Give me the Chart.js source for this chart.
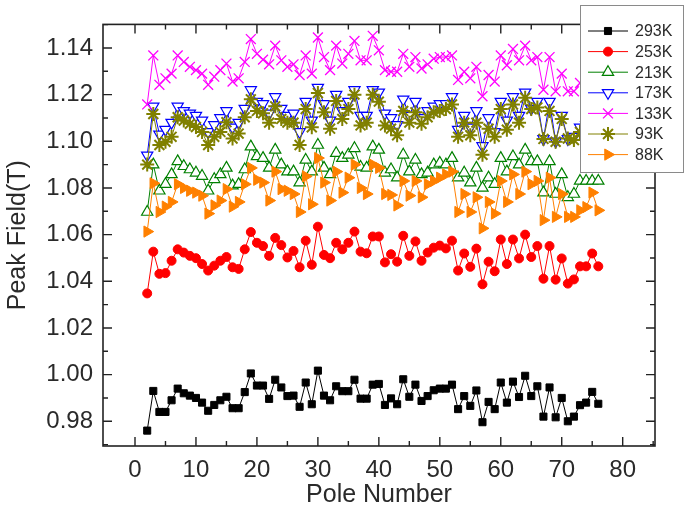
<!DOCTYPE html>
<html><head><meta charset="utf-8">
<script src="https://cdn.jsdelivr.net/npm/chart.js@4.4.0/dist/chart.umd.min.js"></script>
<style>html,body{margin:0;padding:0;background:#fff}#wrap{width:686px;height:508px;position:relative}</style>
</head><body><div id="wrap"><canvas id="c" width="686" height="508"></canvas></div>
<script>
const poles=[2,3,4,5,6,7,8,9,10,11,12,13,14,15,16,17,18,19,20,21,22,23,24,25,26,27,28,29,30,31,32,33,34,35,36,37,38,39,40,41,42,43,44,45,46,47,48,49,50,51,52,53,54,55,56,57,58,59,60,61,62,63,64,65,66,67,68,69,70,71,72,73,74,75,76];
const k293=[0.976,0.993,0.984,0.984,0.989,0.994,0.992,0.991,0.990,0.988,0.9845,0.987,0.989,0.9905,0.9856,0.9856,0.9925,1.0005,0.9953,0.9953,0.9896,0.9978,0.9945,0.9908,0.991,0.9862,0.9966,0.9873,1.0017,0.991,0.989,0.995,0.9929,0.9929,0.9978,0.9897,0.9897,0.9957,0.996,0.987,0.9898,0.9873,0.998,0.9905,0.9957,0.9887,0.9908,0.9933,0.994,0.994,0.9957,0.9852,0.9908,0.9866,0.9932,0.9796,0.9883,0.9852,0.9966,0.988,0.997,0.9904,0.9995,0.9908,0.995,0.982,0.9945,0.9817,0.990,0.980,0.982,0.9869,0.988,0.9926,0.9875];
const k253=[1.0348,1.0527,1.0432,1.0435,1.0488,1.0537,1.0523,1.0509,1.0499,1.0474,1.0446,1.0467,1.0488,1.0504,1.046,1.0453,1.0537,1.0611,1.0565,1.0551,1.0509,1.0586,1.0555,1.0502,1.053,1.046,1.0574,1.0471,1.0634,1.0513,1.0499,1.0565,1.0537,1.0565,1.0613,1.0527,1.052,1.0592,1.0592,1.0481,1.0516,1.0484,1.0595,1.0509,1.0571,1.0488,1.0523,1.0544,1.0553,1.0541,1.0574,1.0446,1.0519,1.0462,1.054,1.0387,1.0484,1.0443,1.0579,1.0474,1.0579,1.0498,1.06,1.0504,1.0551,1.0411,1.0551,1.0407,1.0498,1.039,1.0408,1.0464,1.0464,1.0519,1.0464];
const k213=[1.0697,1.090,1.0788,1.0816,1.0858,1.0914,1.0893,1.0879,1.0865,1.0851,1.0788,1.0837,1.0858,1.0886,1.081,1.0816,1.0879,1.0977,1.0935,1.0928,1.0886,1.0963,1.090,1.087,1.087,1.0823,1.092,1.087,1.0984,1.0886,1.0858,1.0949,1.0928,1.0942,1.097,1.089,1.0886,1.0977,1.0963,1.0865,1.0879,1.0844,1.0942,1.087,1.092,1.0858,1.0865,1.090,1.0907,1.090,1.0928,1.0844,1.0865,1.0823,1.0886,1.080,1.0844,1.0816,1.0928,1.087,1.0935,1.090,1.0963,1.0914,1.0914,1.078,1.0914,1.0774,1.0858,1.076,1.0774,1.083,1.083,1.083,1.083];
const k173=[1.094,1.115,1.103,1.105,1.108,1.115,1.113,1.112,1.111,1.109,1.104,1.107,1.110,1.113,1.106,1.108,1.114,1.122,1.117,1.116,1.112,1.119,1.114,1.111,1.112,1.104,1.117,1.109,1.123,1.116,1.109,1.120,1.113,1.117,1.122,1.111,1.111,1.122,1.121,1.112,1.110,1.107,1.118,1.111,1.117,1.110,1.113,1.115,1.116,1.116,1.119,1.105,1.111,1.106,1.113,1.098,1.110,1.104,1.117,1.109,1.119,1.111,1.121,1.114,1.117,1.101,1.117,1.100,1.111,1.101,1.102,1.106,1.107,1.112,1.107];
const k133=[1.1158,1.1368,1.1242,1.127,1.129,1.1368,1.134,1.1319,1.1305,1.129,1.1242,1.1277,1.1305,1.1333,1.1256,1.127,1.134,1.1438,1.1375,1.135,1.133,1.141,1.1347,1.1319,1.133,1.1284,1.1368,1.129,1.1445,1.1361,1.1305,1.141,1.1333,1.1375,1.143,1.1347,1.1347,1.1452,1.139,1.1305,1.1298,1.1298,1.1375,1.1319,1.1361,1.1312,1.133,1.1354,1.1361,1.1361,1.1368,1.1263,1.1298,1.127,1.1319,1.1193,1.1284,1.1256,1.1368,1.1326,1.1396,1.1347,1.141,1.1347,1.1361,1.1221,1.1361,1.1214,1.129,1.1214,1.1214,1.125,1.126,1.131,1.126];
const k93=[1.090,1.1117,1.0984,1.0998,1.1019,1.1103,1.1089,1.1075,1.1061,1.104,1.0984,1.1019,1.104,1.1082,1.1012,1.1033,1.1103,1.118,1.113,1.112,1.108,1.115,1.1096,1.108,1.108,1.0984,1.1138,1.106,1.1207,1.1124,1.1054,1.1173,1.1096,1.1138,1.12,1.1068,1.108,1.12,1.117,1.1068,1.1054,1.1026,1.113,1.108,1.1124,1.1075,1.1103,1.1124,1.113,1.1138,1.1158,1.1019,1.108,1.1026,1.108,1.0942,1.1054,1.1019,1.1138,1.105,1.1158,1.108,1.1187,1.1138,1.1145,1.101,1.113,1.0998,1.1096,1.1012,1.1005,1.104,1.105,1.109,1.104];
const k88=[1.0613,1.082,1.0697,1.072,1.074,1.0816,1.080,1.0788,1.078,1.0767,1.069,1.0725,1.0746,1.0795,1.072,1.074,1.0816,1.0886,1.0835,1.0823,1.0746,1.087,1.0795,1.0788,1.0774,1.0697,1.085,1.073,1.0928,1.0823,1.0746,1.087,1.078,1.0844,1.090,1.080,1.0774,1.090,1.0886,1.0774,1.077,1.0725,1.083,1.0767,1.083,1.076,1.0816,1.083,1.0844,1.0858,1.087,1.0697,1.0774,1.0697,1.076,1.0627,1.074,1.069,1.083,1.074,1.0858,1.0774,1.087,1.0816,1.083,1.0662,1.0844,1.0676,1.0774,1.0676,1.0676,1.0704,1.0718,1.078,1.0704];
const seriesLabels=['293K','253K','213K','173K','133K','93K','88K'];
const xTicks=[0,10,20,30,40,50,60,70,80];
const yTicks=[0.98,1.00,1.02,1.04,1.06,1.08,1.10,1.12,1.14];

const FONT="'Liberation Sans', Arial, Helvetica, sans-serif";
const TXT='#2a2a2a';
const styles=[
 {c:'#000000',bg:'#000000',ps:'rect',r:5,bw:1,rot:0},
 {c:'#ff0000',bg:'#ff0000',ps:'circle',r:4.5,bw:1,rot:0},
 {c:'#008000',bg:'#ffffff',ps:'triangle',r:6.5,bw:1.2,rot:0},
 {c:'#0000ff',bg:'#ffffff',ps:'triangle',r:6.5,bw:1.2,rot:180},
 {c:'#ff00ff',bg:'#ff00ff',ps:'crossRot',r:7,bw:1.3,rot:0},
 {c:'#808000',bg:'#808000',ps:'star',r:7,bw:2,rot:0},
 {c:'#ff8000',bg:'#ff8000',ps:'triangle',r:6.5,bw:1,rot:90}
];
const values=[k293,k253,k213,k173,k133,k93,k88];
const datasets=values.map((arr,i)=>({
  label:seriesLabels[i],
  data:poles.map((p,j)=>({x:p,y:arr[j]})),
  borderColor:styles[i].c,
  backgroundColor:styles[i].bg,
  borderWidth:1,
  pointStyle:styles[i].ps,
  pointRadius:styles[i].r,
  pointRotation:styles[i].rot,
  pointBorderWidth:styles[i].bw,
  pointBorderColor:styles[i].c,
  pointBackgroundColor:styles[i].bg,
  tension:0,
  order:6-i
}));

const framePlugin={
  id:'frame',
  afterDatasetsDraw(chart){
    const {ctx,chartArea:a,scales:{x,y}}=chart;
    ctx.save();
    ctx.strokeStyle='#222';
    ctx.lineWidth=1.6;
    ctx.strokeRect(a.left,a.top,a.right-a.left,a.bottom-a.top);
    ctx.lineWidth=1.4;
    ctx.beginPath();
    const xs=[];
    for(let i=0;i<xTicks.length;i++){xs.push([xTicks[i],9]);}
    for(let i=0;i<xTicks.length;i++){xs.push([xTicks[i]+(xTicks[1]-xTicks[0])/2,5]);}
    xs.forEach(([v,l])=>{const px=x.getPixelForValue(v);if(px<a.left||px>a.right)return;
      ctx.moveTo(px,a.bottom);ctx.lineTo(px,a.bottom-l);ctx.moveTo(px,a.top);ctx.lineTo(px,a.top+l);});
    const ys=[];
    for(let i=0;i<yTicks.length;i++){ys.push([yTicks[i],9]);}
    for(let i=-1;i<yTicks.length;i++){ys.push([yTicks[0]+(i+0.5)*(yTicks[1]-yTicks[0]),5]);}
    ys.forEach(([v,l])=>{const py=y.getPixelForValue(v);if(py<a.top||py>a.bottom)return;
      ctx.moveTo(a.left,py);ctx.lineTo(a.left+l,py);ctx.moveTo(a.right,py);ctx.lineTo(a.right-l,py);});
    ctx.stroke();
    ctx.restore();
  }
};

const legendPlugin={
  id:'boxLegend',
  afterDraw(chart){
    const ctx=chart.ctx;
    ctx.save();
    ctx.fillStyle='#fff';
    ctx.fillRect(580,5,104,167);
    ctx.strokeStyle='#8a8a8a';ctx.lineWidth=1;
    ctx.strokeRect(580.5,5.5,103,167);
    chart.data.datasets.forEach((ds,i)=>{
      const yy=31+i*20.6;
      ctx.strokeStyle=ds.borderColor;ctx.lineWidth=1;
      ctx.beginPath();ctx.moveTo(588,yy);ctx.lineTo(628,yy);ctx.stroke();
      ctx.fillStyle=ds.pointBackgroundColor;ctx.strokeStyle=ds.pointBorderColor;ctx.lineWidth=ds.pointBorderWidth;
      if(Chart.helpers&&Chart.helpers.drawPoint){
        Chart.helpers.drawPoint(ctx,{pointStyle:ds.pointStyle,rotation:ds.pointRotation,radius:ds.pointRadius,borderWidth:ds.pointBorderWidth},608,yy);
      }
      ctx.fillStyle=TXT;ctx.font='16px '+FONT;ctx.textBaseline='middle';ctx.textAlign='left';
      ctx.fillText(ds.label,635,yy+1);
    });
    ctx.restore();
  }
};

new Chart(document.getElementById('c'),{
  type:'line',
  data:{datasets},
  options:{
    responsive:false,animation:false,
    layout:{padding:{top:15,right:31,left:0,bottom:0}},
    plugins:{legend:{display:false},tooltip:{enabled:false}},
    elements:{line:{borderWidth:1}},
    scales:{
      x:{type:'linear',min:-5.25,max:85.3,
        grid:{display:false,drawTicks:false},border:{display:false},
        afterBuildTicks(s){s.ticks=xTicks.map(v=>({value:v}));},
        afterFit(s){s.height=62;},
        ticks:{padding:10,color:TXT,font:{family:FONT,size:24},maxRotation:0,callback:v=>String(v)},
        title:{display:true,text:'Pole Number',color:TXT,font:{family:FONT,size:25,lineHeight:1},padding:{top:0,bottom:0}}
      },
      y:{type:'linear',min:0.9694,max:1.1501,
        grid:{display:false,drawTicks:false},border:{display:false},
        afterBuildTicks(s){s.ticks=yTicks.map(v=>({value:v}));},
        afterFit(s){s.width=103;},
        ticks:{padding:10,color:TXT,font:{family:FONT,size:24},callback:v=>Number(v).toFixed(2)},
        title:{display:true,text:'Peak Field(T)',color:TXT,font:{family:FONT,size:25,lineHeight:1},padding:{top:6,bottom:0}}
      }
    }
  },
  plugins:[framePlugin,legendPlugin]
});
</script></body></html>
